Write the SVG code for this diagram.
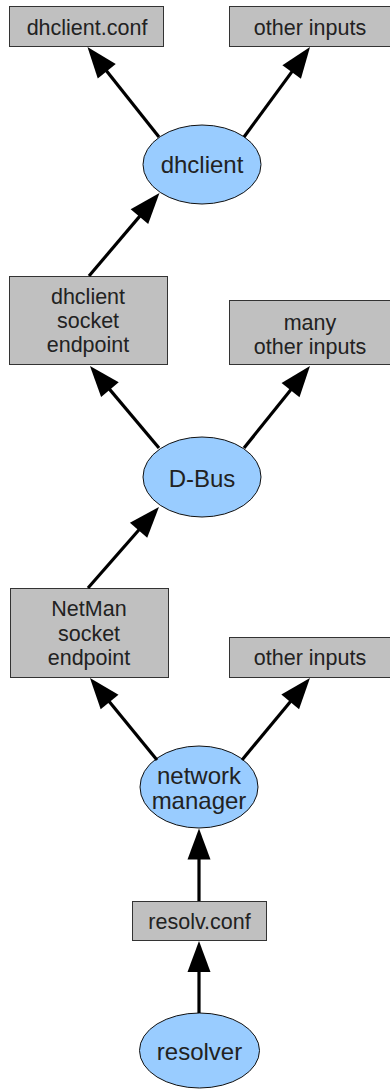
<svg xmlns="http://www.w3.org/2000/svg" width="390" height="1089" viewBox="0 0 390 1089">
<style>
.box{fill:#c0c0c0;stroke:#333;stroke-width:1}
.ell{fill:#99ccff;stroke:#111;stroke-width:1}
.t{font-family:"Liberation Sans",Arial,sans-serif;font-size:21.5px;fill:#222;text-anchor:middle}
.e{font-size:24px}
.c{stroke:#000;stroke-width:3.2;fill:none;marker-end:url(#ah)}
</style>
<defs>
<marker id="ah" markerUnits="userSpaceOnUse" markerWidth="60" markerHeight="40" viewBox="-30 -20 60 40" refX="0" refY="0" orient="auto" overflow="visible">
<path d="M10,0 L-21,-11.5 L-21,11.5 z" fill="#000"/>
</marker>
</defs>
<rect width="390" height="1089" fill="#fff"/>
<g id="dhclient_conf"><rect class="box" x="9.5" y="6.5" width="154" height="40"/><text class="t" x="87" y="35">dhclient.conf</text></g>
<g id="other_inputs_1"><rect class="box" x="229.5" y="6.5" width="162" height="40"/><text class="t" x="310" y="35">other inputs</text></g>
<g id="dhclient"><ellipse class="ell" cx="202" cy="164.5" rx="59" ry="39.5"/><text class="t e" x="202" y="173">dhclient</text></g>
<g id="dhclient_socket"><rect class="box" x="9.5" y="276.5" width="158" height="88"/><text class="t" x="88" y="303.5">dhclient</text><text class="t" x="88" y="327.5">socket</text><text class="t" x="88" y="352">endpoint</text></g>
<g id="many_other_inputs"><rect class="box" x="229.5" y="300.5" width="162" height="64"/><text class="t" x="310" y="329.5">many</text><text class="t" x="310" y="354">other inputs</text></g>
<g id="dbus"><ellipse class="ell" cx="202" cy="477" rx="59" ry="40"/><text class="t e" x="202" y="486.5">D-Bus</text></g>
<g id="netman_socket"><rect class="box" x="10.5" y="588.5" width="158" height="89"/><text class="t" x="89" y="616">NetMan</text><text class="t" x="89" y="640.5">socket</text><text class="t" x="89" y="665">endpoint</text></g>
<g id="other_inputs_2"><rect class="box" x="229.5" y="637.5" width="162" height="40"/><text class="t" x="310" y="665">other inputs</text></g>
<g id="network_manager"><ellipse class="ell" cx="199" cy="787" rx="59" ry="41"/><text class="t e" x="199" y="784">network</text><text class="t e" x="199" y="808.5">manager</text></g>
<g id="resolv_conf"><rect class="box" x="132.5" y="901.5" width="134" height="39"/><text class="t" x="199.5" y="928.5">resolv.conf</text></g>
<g id="resolver"><ellipse class="ell" cx="199.5" cy="1050.5" rx="60" ry="37.5"/><text class="t e" x="199.5" y="1060">resolver</text></g>
<g id="connectors">
<line class="c" x1="159" y1="137" x2="93.7" y2="54.8"/>
<line class="c" x1="244" y1="137" x2="304.1" y2="55.1"/>
<line class="c" x1="89" y1="276" x2="153" y2="200.6"/>
<line class="c" x1="159" y1="448" x2="96.4" y2="373.6"/>
<line class="c" x1="244" y1="448" x2="303.7" y2="373.8"/>
<line class="c" x1="88" y1="588" x2="152.4" y2="514.5"/>
<line class="c" x1="157" y1="760" x2="96.3" y2="685.7"/>
<line class="c" x1="242" y1="760" x2="303.6" y2="685.7"/>
<line class="c" x1="199" y1="901" x2="199" y2="838.5"/>
<line class="c" x1="199" y1="1013" x2="199" y2="951"/>
</g>
</svg>
